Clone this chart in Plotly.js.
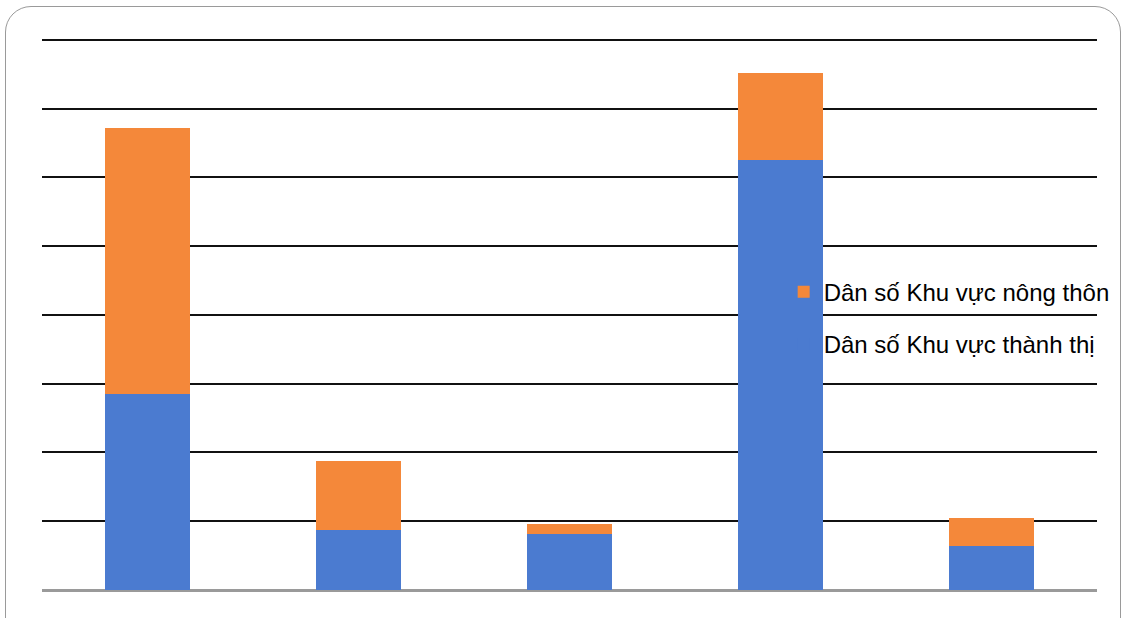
<!DOCTYPE html>
<html>
<head>
<meta charset="utf-8">
<script src="https://cdn.plot.ly/plotly-3.0.1.min.js"></script>
<style>
  html, body { margin: 0; padding: 0; background: #fff; }
  #frame { position: absolute; left: 5px; top: 6px; width: 1116px; height: 640px;
           border: 1.5px solid #9a9a9a; border-radius: 26px; box-sizing: border-box; }
  #chart { position: absolute; left: 0; top: 0; width: 1128px; height: 618px; }
</style>
</head>
<body>
<div id="frame"></div>
<div id="chart"></div>
<script>
const categories = ['Nhóm 1', 'Nhóm 2', 'Nhóm 3', 'Nhóm 4', 'Nhóm 5'];
const urbanValues = [2.85, 0.87, 0.82, 6.25, 0.64];
const ruralValues = [3.87, 1.01, 0.14, 1.27, 0.40];
const gridValues = [1, 2, 3, 4, 5, 6, 7, 8];
const urbanName = 'Dân số Khu vực thành thị';
const ruralName = 'Dân số Khu vực nông thôn';

const traces = [
  { type: 'bar', x: categories, y: urbanValues, name: urbanName, legendgroup: 'a', legendrank: 2,
    marker: { color: '#4B7BD0' } },
  { type: 'bar', x: categories, y: ruralValues, name: ruralName, legendgroup: 'b', legendrank: 1,
    marker: { color: '#F4883A' } }
];

const layout = {
  width: 1128, height: 618,
  margin: { l: 42, r: 31, t: 33, b: 28 },
  paper_bgcolor: 'rgba(0,0,0,0)', plot_bgcolor: 'rgba(0,0,0,0)',
  barmode: 'stack', bargap: 0.6,
  font: { family: 'Liberation Sans, Arial, sans-serif', color: '#000' },
  xaxis: { showticklabels: false, showgrid: false, zeroline: false, ticks: '', showline: false },
  yaxis: { range: [0, 8.1], tickvals: gridValues, showticklabels: false, ticks: '',
           showgrid: true, gridcolor: '#111', gridwidth: 2,
           zeroline: true, zerolinecolor: '#9a9a9a', zerolinewidth: 3, showline: false },
  showlegend: true,
  legend: { x: 0.703, y: 0.575, xanchor: 'left', yanchor: 'top',
            bgcolor: 'rgba(0,0,0,0)', font: { size: 24, color: '#000' },
            traceorder: 'grouped', tracegroupgap: 18, itemwidth: 30 }
};

Plotly.newPlot('chart', traces, layout, { displayModeBar: false, staticPlot: true });
</script>
</body>
</html>
